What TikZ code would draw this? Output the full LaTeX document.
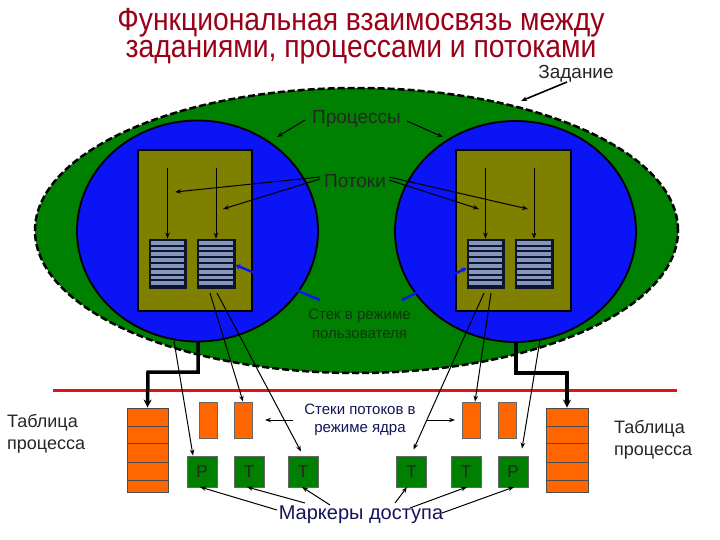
\documentclass[tikz,border=0pt]{standalone}
\usepackage{fontspec}
\setmainfont{Liberation Sans}
\usetikzlibrary{arrows.meta,calc,shapes.geometric}
\definecolor{jobgreen}{RGB}{0,128,0}
\definecolor{procblue}{RGB}{10,20,245}
\definecolor{olivebox}{RGB}{128,128,0}
\definecolor{stackfill}{RGB}{130,150,190}
\definecolor{stackline}{RGB}{15,20,45}
\definecolor{kernorange}{RGB}{255,102,0}
\definecolor{titlered}{RGB}{155,0,25}
\definecolor{navytext}{RGB}{20,20,90}
\definecolor{redline}{RGB}{225,20,20}
\definecolor{labgreen}{RGB}{15,55,15}
\tikzset{
  thinarrow/.style={draw=black, line width=1pt, -{Stealth[length=6pt,width=4.5pt]}},
  thickconn/.style={draw=black, line width=3.5pt, -{Stealth[length=8pt,width=8pt]}},
  bluearrow/.style={draw=procblue, line width=2.5pt, -{Stealth[length=5pt,width=5.5pt]}},
  olive/.style={rectangle, draw=black, fill=olivebox, line width=1.8pt, inner sep=0pt},
  ustack/.style={rectangle, draw=stackline, fill=stackline, line width=0.8pt, inner sep=0pt, minimum height=49pt},
  kstack/.style={rectangle, draw=black!60, fill=kernorange, line width=0.8pt, inner sep=0pt, minimum width=18pt, minimum height=36pt},
  marker/.style={rectangle, draw=black!60, fill=jobgreen, line width=0.8pt, inner sep=0pt, minimum width=30pt, minimum height=31pt, font=\fontsize{17}{17}\selectfont, text=black!85},
  ptable/.style={rectangle, draw=black!70, fill=kernorange, line width=0.9pt, inner sep=0pt, minimum height=84pt},
  lab/.style={inner sep=0pt, font=\fontsize{19}{22}\selectfont},
}
\newcommand\stackbands[1]{%
  \foreach \i in {0,...,7}{%
    \fill[stackfill] ($(#1.north west)+(2.2,2.2+\i*5.8)$) rectangle ($(#1.north east)+(-2.2,2.2+\i*5.8+3.7)$);
  }}
\begin{document}
\begin{tikzpicture}[x=1pt,y=-1pt]
\useasboundingbox (0,0) rectangle (720,540);
\fill[white] (0,0) rectangle (720,540);

% title
\node[text=titlered, inner sep=0pt, align=center, anchor=base, font=\fontsize{32}{27}\selectfont] (title) at (361,58) {\scalebox{0.884}[1]{Функциональная взаимосвязь между}\\\scalebox{0.884}[1]{заданиями, процессами и потоками}};

% job ellipse
\node[ellipse, draw=black, fill=jobgreen, line width=2.5pt, dash pattern=on 7pt off 3pt, inner sep=0pt, minimum width=643pt, minimum height=285pt] (job) at (356.5,230.5) {};

% process circles
\node[ellipse, draw=black, fill=procblue, line width=1.8pt, inner sep=0pt, minimum width=241pt, minimum height=221pt] (procL) at (197.5,231) {};
\node[ellipse, draw=black, fill=procblue, line width=1.8pt, inner sep=0pt, minimum width=241pt, minimum height=221pt] (procR) at (515.5,231.5) {};

% olive boxes
\node[olive, minimum width=114pt, minimum height=161pt] (boxL) at (195,230.5) {};
\node[olive, minimum width=115pt, minimum height=161pt] (boxR) at (513.5,230.5) {};

% user stacks
\node[ustack, minimum width=37pt] (sL1) at (167.5,263.5) {};
\node[ustack, minimum width=38pt] (sL2) at (216,263.5) {};
\node[ustack, minimum width=37pt] (sR1) at (485.5,263.5) {};
\node[ustack, minimum width=38pt] (sR2) at (534,263.5) {};
\stackbands{sL1}\stackbands{sL2}\stackbands{sR1}\stackbands{sR2}

% thread arrows inside boxes
\coordinate (tL1) at (167.5,168);
\coordinate (tL2) at (216,168);
\coordinate (tR1) at (485.5,168);
\coordinate (tR2) at (534,168);
\draw[thinarrow] (tL1) -- (sL1.north);
\draw[thinarrow] (tL2) -- (sL2.north);
\draw[thinarrow] (tR1) -- (sR1.north);
\draw[thinarrow] (tR2) -- (sR2.north);

% labels on job
\node[lab, text=black!85] (zad) at (576,74) {Задание};
\node[lab, text=black!85] (procs) at (356.5,119) {Процессы};
\node[lab, text=black!85] (threads) at (355,181) {Потоки};
\node[inner sep=0pt, align=center, text=labgreen, font=\fontsize{15}{19}\selectfont] (ustk) at (359.5,323.5) {Стек в режиме\\пользователя};

\coordinate (zadT) at (567,82);
\draw[thinarrow, line width=1.6pt] (zadT) -- (521,101);
\coordinate (prL) at (305,120);
\coordinate (prR) at (407,121);
\draw[thinarrow] (prL) -- (277,137);
\draw[thinarrow] (prR) -- (443,137);

\coordinate (thL) at (320,177);
\coordinate (thR) at (389,177);
\draw[thinarrow] (thL) -- (175,192);
\draw[thinarrow] (320,179) -- (223,209);
\draw[thinarrow] (thR) -- (528,209);
\draw[thinarrow] (389,180) -- (479,209);

% blue arrows to user stacks
\coordinate (ubL) at (320,300);
\coordinate (ubR) at (402,300);
\draw[bluearrow] (ubL) -- (sL2.east |- 0,265);
\draw[bluearrow] (ubR) -- (sR1.west |- 0,268);

% red line
\coordinate (redA) at (53,390);
\coordinate (redB) at (677,390);
\draw[redline, line width=3pt] (redA) -- (redB);

% process tables
\node[ptable, minimum width=41pt] (tabL) at (147.5,450) {};
\node[ptable, minimum width=42pt] (tabR) at (567,450) {};
\foreach \t in {tabL,tabR}{
  \foreach \d in {19,36,55,73}{
    \draw[black!70, line width=0.9pt] ($(\t.north west)+(0,\d)$) -- ($(\t.north east)+(0,\d)$);
  }}

% thick connectors
\draw[thickconn] (198,341) -- (198,372) -- (148,372) -- (tabL.north);
\draw[thickconn] (516,341) -- (516,373) -- (567,373) -- (tabR.north);

% kernel stacks
\node[kstack] (kL1) at (208,420) {};
\node[kstack] (kL2) at (243,420) {};
\node[kstack] (kR1) at (471,420) {};
\node[kstack] (kR2) at (507,420) {};

% markers
\node[marker] (mP1) at (202,471.5) {P};
\node[marker] (mT1) at (249,471.5) {T};
\node[marker] (mT2) at (303,471.5) {T};
\node[marker] (mT3) at (411.5,471.5) {T};
\node[marker] (mT4) at (466,471.5) {T};
\node[marker] (mP2) at (513,471.5) {P};

% long thin arrows from processes / user stacks
\draw[thinarrow] (174,341) -- (mP1.north -| 193,0);
\draw[thinarrow] (210,293) -- (kL2.north);
\draw[thinarrow] (217,293) -- ($(mT2.north)+(-2,-4)$);
\draw[thinarrow] (484,293) -- ($(mT3.north)+(2,-6)$);
\draw[thinarrow] (491,293) -- (kR1.north -| 475,0);
\draw[thinarrow] (540,340) -- ($(mP2.north)+(9,-7)$);

% kernel stack label
\node[inner sep=0pt, align=center, text=navytext, font=\fontsize{15}{18}\selectfont] (kstk) at (360,420) {Стеки потоков в\\режиме ядра};
\draw[thinarrow] (293,420) -- (265,420);
\draw[thinarrow] (427,420) -- (455,420);

% table labels
\node[inner sep=0pt, anchor=west, align=left, text=black!85, font=\fontsize{18}{22}\selectfont] (tlabL) at (7,434) {Таблица\\процесса};
\node[inner sep=0pt, anchor=west, align=left, text=black!85, font=\fontsize{18}{22}\selectfont] (tlabR) at (614,440) {Таблица\\процесса};

% access markers label
\node[inner sep=0pt, text=navytext, font=\fontsize{20}{24}\selectfont] (mlab) at (361,515) {Маркеры доступа};
\draw[thinarrow] (277,510) -- (200,487);
\draw[thinarrow] (305,503) -- (247,487);
\draw[thinarrow] (330,505) -- (302,487);
\draw[thinarrow] (395,503) -- (407,487);
\draw[thinarrow] (410,508) -- (467,487);
\draw[thinarrow] (442,513) -- (514,487);
\end{tikzpicture}
\end{document}
